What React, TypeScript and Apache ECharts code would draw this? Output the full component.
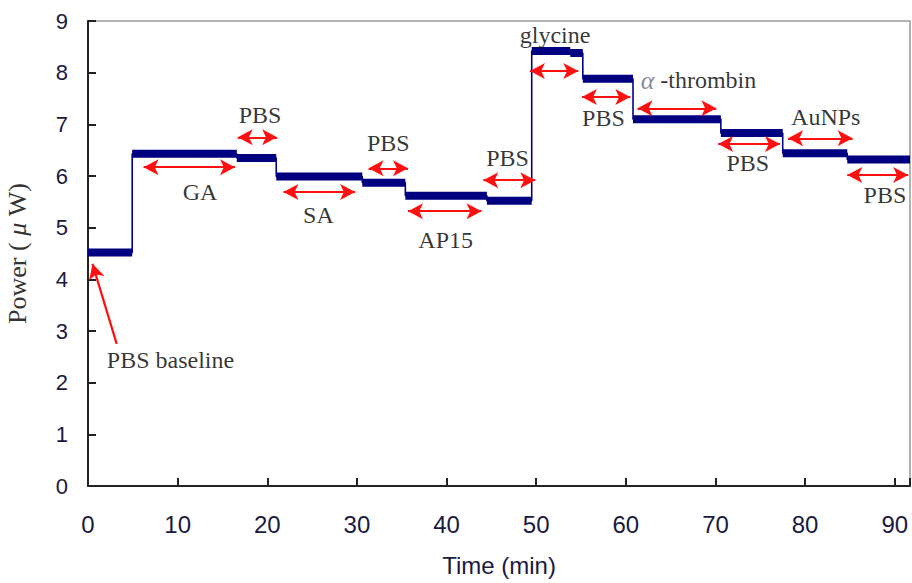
import React, { useEffect, useRef } from "react";
import * as echarts from "echarts";

// Step levels of the power trace (min, μW)
const segStart = [0, 4.93, 16.6, 21.0, 30.6, 35.4, 44.5, 49.5, 53.8, 55.2, 60.8, 70.6, 77.5, 84.7];
const segEnd = [4.93, 16.6, 21.0, 30.6, 35.4, 44.5, 49.5, 53.8, 55.2, 60.8, 70.6, 77.5, 84.7, 91.7];
const segLevel = [4.52, 6.43, 6.35, 5.99, 5.87, 5.62, 5.52, 8.42, 8.38, 7.88, 7.1, 6.83, 6.44, 6.32];

// Red double arrows marking each step
const arrowX1 = [6.2, 16.7, 21.8, 31.3, 35.7, 44.1, 49.3, 55.1, 61.3, 70.3, 78.1, 84.7];
const arrowX2 = [16.4, 21.1, 29.8, 35.7, 43.9, 49.9, 54.7, 60.5, 70.1, 77.2, 85.3, 91.5];
const arrowY = [6.17, 6.75, 5.69, 6.15, 5.32, 5.92, 8.03, 7.53, 7.31, 6.62, 6.73, 6.02];

// Annotation labels
const labelText = ["GA", "PBS", "SA", "PBS", "AP15", "PBS", "glycine", "PBS", "{a|α} -thrombin", "PBS", "AuNPs", "PBS", "PBS baseline"];
const labelX = [12.5, 19.2, 25.7, 33.5, 39.9, 46.8, 52.1, 57.5, 68.1, 73.6, 82.3, 88.9, 9.2];
const labelY = [5.69, 7.18, 5.24, 6.63, 4.76, 6.34, 8.72, 7.12, 7.85, 6.25, 7.14, 5.63, 2.44];

// Baseline pointer arrow
const pointerFrom = [3.2, 2.75];
const pointerTo = [0.5, 4.3];

const xTicks = [0, 10, 20, 30, 40, 50, 60, 70, 80, 90];
const yTicks = [0, 1, 2, 3, 4, 5, 6, 7, 8, 9];

export default function App() {
  const ref = useRef<HTMLDivElement>(null);
  useEffect(() => {
    if (!ref.current) return;
    const chart = echarts.init(ref.current, null, { renderer: "svg" });

    const trace: any[] = [];
    const band: any[] = [];
    segLevel.forEach((v, i) => {
      trace.push([segStart[i], v], [segEnd[i], v]);
      band.push([segStart[i], v], [segEnd[i], v], [segEnd[i], null]);
    });

    const arrows = arrowY.map((y, i) => [
      { coord: [arrowX1[i], y] },
      { coord: [arrowX2[i], y] },
    ]);

    const labels = labelText.map((t, i) => [labelX[i], labelY[i], t]);

    const navy = "#000080";
    const serif = "Liberation Serif, Times New Roman, serif";
    const sans = "Liberation Sans, Arial, sans-serif";

    chart.setOption({
      animation: false,
      backgroundColor: "#fff",
      grid: {
        left: 88,
        right: 2,
        top: 21,
        bottom: 97,
        outerBoundsMode: "none",
        containLabel: false,
        show: true,
        borderColor: "#999",
        borderWidth: 1.5,
      },
      xAxis: {
        type: "value",
        min: 0,
        max: 91.7,
        interval: 10,
        name: "Time (min)",
        nameLocation: "middle",
        nameGap: 67,
        nameTextStyle: { fontFamily: sans, fontSize: 24, color: "#1a1a40" },
        axisLine: { show: true, lineStyle: { color: "#222", width: 2 } },
        axisTick: { show: true, inside: true, length: 8, lineStyle: { color: "#222", width: 2 } },
        axisLabel: {
          fontFamily: sans,
          fontSize: 24,
          color: "#1a1a40",
          margin: 26,
          formatter: (v: number) => (xTicks.includes(v) ? String(v) : ""),
        },
        splitLine: { show: false },
      },
      yAxis: {
        type: "value",
        min: 0,
        max: 9,
        interval: 1,
        name: "{p|Power (} {m|μ} {p|W)}",
        nameLocation: "middle",
        nameGap: 58,
        nameRotate: 90,
        nameTextStyle: {
          fontFamily: serif,
          fontSize: 26,
          color: "#333",
          rich: {
            p: { fontFamily: serif, fontSize: 26, color: "#333" },
            m: { fontFamily: serif, fontSize: 26, color: "#333", fontStyle: "italic" },
          },
        },
        axisLine: { show: true, lineStyle: { color: "#222", width: 2 } },
        axisTick: { show: true, inside: true, length: 8, lineStyle: { color: "#222", width: 2 } },
        axisLabel: {
          fontFamily: sans,
          fontSize: 22,
          color: "#1a1a40",
          margin: 20,
          formatter: (v: number) => (yTicks.includes(v) ? String(v) : ""),
        },
        splitLine: { show: false },
      },
      series: [
        {
          type: "line",
          data: trace,
          showSymbol: false,
          lineStyle: { color: navy, width: 1.6 },
          itemStyle: { color: navy },
          silent: true,
          z: 3,
        },
        {
          type: "line",
          data: band,
          showSymbol: false,
          connectNulls: false,
          lineStyle: { color: navy, width: 8 },
          itemStyle: { color: navy },
          silent: true,
          z: 3,
          markLine: {
            silent: true,
            symbol: ["arrow", "arrow"],
            symbolSize: [12, 15],
            label: { show: false },
            lineStyle: { color: "#ff1010", width: 2.2, type: "solid" },
            emphasis: { disabled: true },
            data: [
              ...arrows,
              [
                { coord: pointerFrom, symbol: "none" },
                { coord: pointerTo, symbol: "arrow" },
              ],
            ],
          },
        },
        {
          type: "scatter",
          data: labels,
          symbolSize: 0,
          silent: true,
          z: 5,
          label: {
            show: true,
            position: "inside",
            formatter: (p: any) => p.data[2],
            fontFamily: serif,
            fontSize: 24,
            color: "#000",
            rich: {
              a: { fontFamily: serif, fontSize: 26, fontStyle: "italic", color: "#6a6a80" },
            },
          },
        },
      ],
    });
    return () => chart.dispose();
  }, []);
  return (
    <div
      ref={ref}
      style={{ position: "fixed", left: 0, top: 0, width: 912, height: 583 }}
    />
  );
}
